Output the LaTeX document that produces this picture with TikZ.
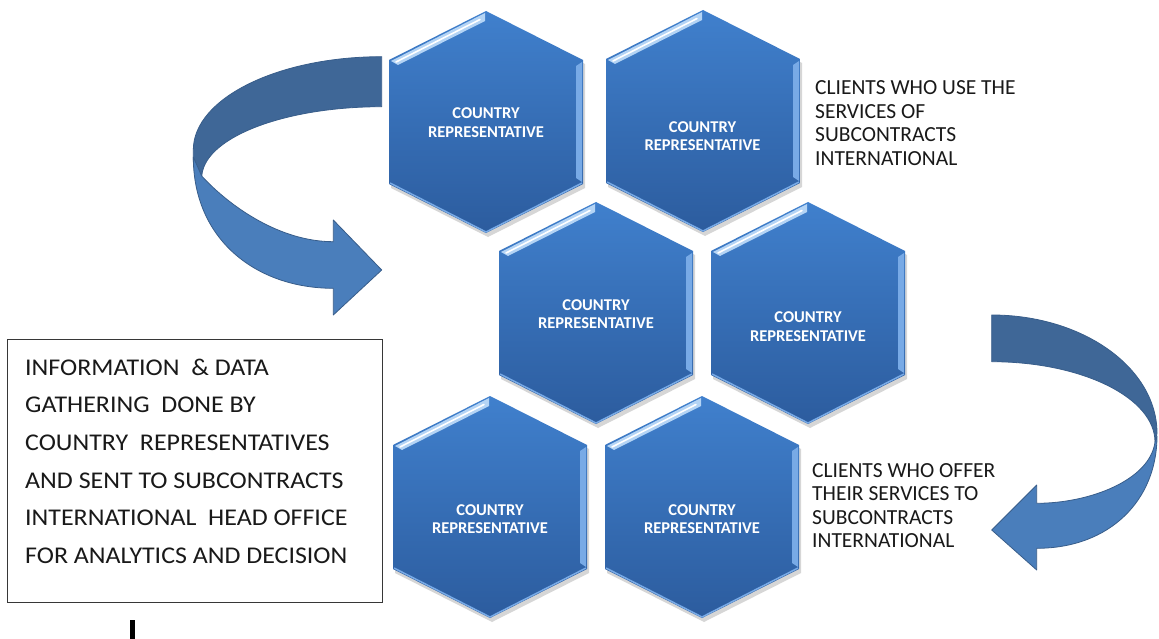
\documentclass[tikz,border=0pt]{standalone}
\usepackage{fontspec}
\setmainfont{Carlito}
\newfontfamily\boxfont[FakeStretch=1.08]{Carlito}
\usetikzlibrary{calc}
\definecolor{hextop}{RGB}{64,128,205}
\definecolor{hexbot}{RGB}{44,92,158}
\definecolor{hexhl}{RGB}{180,212,245}
\definecolor{hexrim}{RGB}{120,170,230}
\definecolor{arrlight}{RGB}{74,126,187}
\definecolor{arrdark}{RGB}{63,103,151}
\definecolor{arrline}{RGB}{56,93,138}
\definecolor{txt}{RGB}{25,25,25}
\definecolor{boxline}{RGB}{55,55,55}
\tikzset{
  hexfill/.style={top color=hextop, bottom color=hexbot},
  hexshadow/.style={fill=black, opacity=0.16},
  hextext/.style={text=white, font=\bfseries\fontsize{16.5}{18.3}\selectfont, align=center, inner sep=0pt},
  sidetext/.style={text=txt, font=\fontsize{21.5}{23.4}\selectfont, align=left, inner sep=0pt, anchor=base west},
  boxtext/.style={text=txt, font=\boxfont\fontsize{24}{37.7}\selectfont, align=left, inner sep=0pt, anchor=base west},
  infobox/.style={draw=boxline, line width=1.4pt, anchor=north west, minimum width=375pt, minimum height=263pt, inner sep=0pt},
  arrowfront/.style={fill=arrlight, draw=arrline, line width=0.8pt, line join=round},
  arrowback/.style={fill=arrdark, draw=arrline, line width=0.8pt, line join=round},
}
\newcommand{\hexcell}[5]{%
  \coordinate (#1) at (#2,#3);
  \begin{scope}[shift={(#1)}]
    \fill[hexshadow] (2,-108) -- (99,-58) -- (99,66) -- (2,115) -- (-95,66) -- (-95,-58) -- cycle;
    \shade[hexfill] (0,-111) -- (97,-62) -- (97,62) -- (0,111) -- (-97,62) -- (-97,-62) -- cycle;
    \fill[hexhl] (-95,-61) -- (-1,-109) -- (-1,-101) -- (-88,-57) -- cycle;
    \draw[white, line width=1.6pt, line cap=round] (-90,-60) -- (-6,-102.5);
    \fill[hexrim] (96,-60) -- (96,60) -- (90,56) -- (90,-56) -- cycle;
    \draw[hexrim, line width=1.5pt] (-96,61) -- (0,110) -- (96,61);
  \end{scope}
  \node[hextext] (#1t) at ($(#1)+(#4,#5)$) {COUNTRY\\REPRESENTATIVE};
}
\begin{document}
\begin{tikzpicture}[x=1pt,y=-1pt]
\useasboundingbox (0,0) rectangle (1159,639);
\fill[white] (0,0) rectangle (1159,639);

% hexagons
\hexcell{h1}{486}{122}{0}{0.5}
\hexcell{h2}{703}{121}{-0.5}{15}
\hexcell{h3}{596}{313}{0}{1}
\hexcell{h4}{808}{313}{0}{13.7}
\hexcell{h5}{490}{507}{0}{12}
\hexcell{h6}{702}{507}{0}{12}

% left curved arrow
\path[arrowback] (381.7,56.7) .. controls (277.7,56.7) and (193.3,98.5) .. (193.3,150)
  -- (193.3,160) -- (201.7,178) .. controls (201.7,138.6) and (282.3,106.7) .. (381.7,106.7) -- cycle;
\path[arrowfront] (193.3,157) .. controls (193.3,240) and (256.7,288.3) .. (333.3,288.3)
  -- (333.3,315) -- (381.7,270) -- (333.3,220) -- (333.3,241.7)
  .. controls (280,241.7) and (230,206.7) .. (201.7,176) -- cycle;

% right curved arrow
\path[arrowback] (991.7,315) .. controls (1083,315) and (1157,368) .. (1157,433.3)
  -- (1155,442) .. controls (1155,397.7) and (1081.9,361.7) .. (991.7,361.7) -- cycle;
\path[arrowfront] (1157,436) .. controls (1157,500) and (1110,548.3) .. (1036.7,548.3)
  -- (1036.7,570) -- (991.7,530) -- (1036.7,485) -- (1036.7,503.3)
  .. controls (1090,503.3) and (1150,480) .. (1155,442) -- cycle;

% side texts (base anchor = baseline of the last line)
\node[sidetext] (clientsuse) at (815,165.2) {CLIENTS WHO USE THE\\SERVICES OF\\SUBCONTRACTS\\INTERNATIONAL};
\node[sidetext] (clientsoffer) at (812,547.5) {CLIENTS WHO OFFER\\THEIR SERVICES TO\\SUBCONTRACTS\\INTERNATIONAL};

% information box
\node[infobox] (box) at (7,339) {};
\node[boxtext] (boxtxt) at (25,563.5) {INFORMATION\ \ \& DATA\\GATHERING\ \ DONE BY\\COUNTRY\ \ REPRESENTATIVES\\AND SENT TO SUBCONTRACTS\\INTERNATIONAL\ \ HEAD OFFICE\\FOR ANALYTICS AND DECISION};

% small bar below the box
\fill[black] (129.5,620) rectangle (134.5,639);
\end{tikzpicture}
\end{document}
